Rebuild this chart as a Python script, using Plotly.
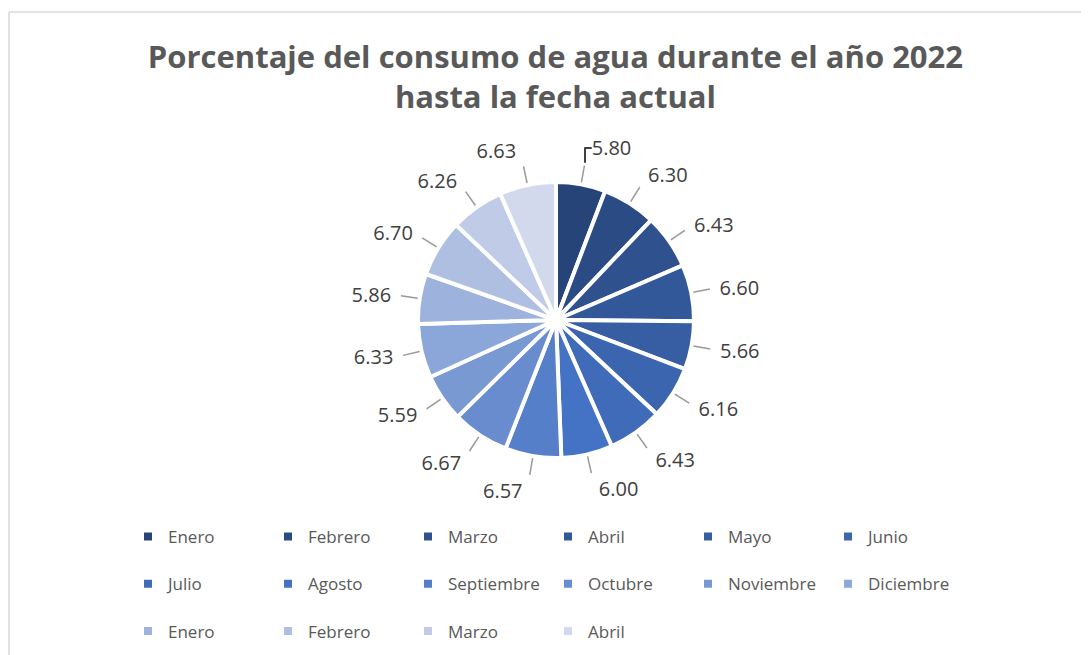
import math
import plotly.graph_objects as go

months = ["Enero", "Febrero", "Marzo", "Abril", "Mayo", "Junio", "Julio", "Agosto",
          "Septiembre", "Octubre", "Noviembre", "Diciembre",
          "Enero", "Febrero", "Marzo", "Abril"]
values = [5.80, 6.30, 6.43, 6.60, 5.66, 6.16, 6.43, 6.00,
          6.57, 6.67, 5.59, 6.33, 5.86, 6.70, 6.26, 6.63]

# unique keys so repeated month names are not merged (zero-width space suffix);
# the trailing empty line gives the legend rows their taller spacing
labels = [m + "\u200b" * (i // 12) + "<br> " for i, m in enumerate(months)]

W, H = 1089, 655
ML, MR = 94, 95            # side margins (limit the legend to 6 entries per row)
PW = W - ML - MR           # plot-area width
CX, CY = 548, 312          # pie centre in pixels (from top-left of figure)
R = 138                    # pie radius in pixels
R_TEXT = 160               # radius of the invisible ring that carries the labels


def px(x):
    return (x - ML) / PW


def py(y):
    return 1 - y / H


def lerp(c1, c2, t):
    return "#%02x%02x%02x" % tuple(round(a + (b - a) * t) for a, b in zip(c1, c2))


dark, mid, light = (0x26, 0x44, 0x78), (0x44, 0x72, 0xC4), (0xD2, 0xD9, 0xEC)
colors = []
for i in range(16):
    if i <= 7:
        colors.append(lerp(dark, mid, i / 7))
    else:
        colors.append(lerp(mid, light, (i - 7) / 8))


def domain(r):
    return dict(x=[px(CX - r), px(CX + r)], y=[py(CY + r), py(CY - r)])


fig = go.Figure()
fig.add_trace(go.Pie(
    labels=labels,
    values=values,
    customdata=months,
    sort=False,
    direction="clockwise",
    rotation=0,
    marker=dict(colors=colors, line=dict(color="white", width=4)),
    textinfo="none",
    hovertemplate="%{customdata}: %{value:.2f}<extra></extra>",
    domain=domain(R),
    showlegend=True,
))
# transparent ring used only to place the data labels further out
fig.add_trace(go.Pie(
    labels=[l + "\u2060" for l in labels],
    values=values,
    sort=False,
    direction="clockwise",
    rotation=0,
    marker=dict(colors=["rgba(0,0,0,0)"] * len(values), line=dict(width=0)),
    textposition="outside",
    texttemplate="%{value:.2f}",
    textfont=dict(family="Open Sans", size=20, color="#404040"),
    hoverinfo="skip",
    domain=domain(R_TEXT),
    showlegend=False,
))

# leader lines at each slice's mid angle
total = sum(values)
shapes = []
cum = 0.0
for v in values:
    a = 2 * math.pi * (cum + v / 2) / total
    cum += v
    r0, r1 = R + 2, R + 19
    shapes.append(dict(
        type="line", xref="paper", yref="paper",
        x0=px(CX + r0 * math.sin(a)), y0=py(CY - r0 * math.cos(a)),
        x1=px(CX + r1 * math.sin(a)), y1=py(CY - r1 * math.cos(a)),
        line=dict(color="#999999", width=1.5),
    ))

# chart-area frame (top and left edges)
shapes += [
    dict(type="line", xref="paper", yref="paper", x0=px(1), x1=px(W), y0=py(4), y1=py(4),
         line=dict(color="#d9d9d9", width=1.5)),
    dict(type="line", xref="paper", yref="paper", x0=px(1), x1=px(1), y0=py(H), y1=py(4),
         line=dict(color="#d9d9d9", width=1.5)),
]

fig.update_layout(
    width=W, height=H,
    margin=dict(l=ML, r=MR, t=0, b=0, autoexpand=False),
    paper_bgcolor="white",
    title=dict(
        text="<b>Porcentaje del consumo de agua durante el año 2022<br>hasta la fecha actual</b>",
        x=0.5027, xanchor="center", y=1 - 60 / H, yanchor="top",
        font=dict(family="Open Sans", size=31, color="#595959"),
    ),
    legend=dict(
        orientation="h",
        x=px(120), xanchor="left",
        y=py(511), yanchor="top",
        entrywidth=95, entrywidthmode="pixels",
        valign="top",
        font=dict(family="Open Sans", size=17, color="#595959"),
        traceorder="normal",
    ),
    shapes=shapes,
)

fig.write_html("out.html")
